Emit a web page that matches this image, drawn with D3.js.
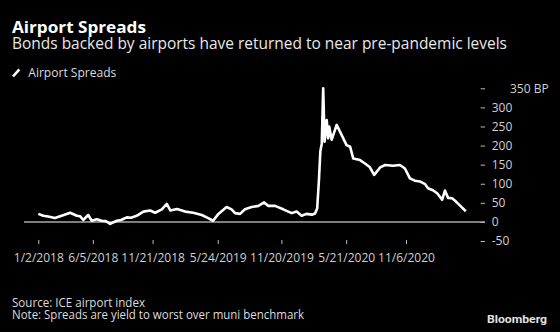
<!DOCTYPE html>
<html>
<head>
<meta charset="utf-8">
<script src="https://cdn.jsdelivr.net/npm/d3@7"></script>
<style>
  html, body { margin: 0; padding: 0; background: #000; }
  svg { display: block; }
</style>
</head>
<body>
<svg id="chart" width="560" height="332"></svg>
<script>
// ---- Data ----
const dates = [
  "2018-01-02","2018-01-16","2018-01-30","2018-02-18","2018-03-09","2018-04-02","2018-04-21","2018-04-30",
  "2018-05-09","2018-05-23","2018-06-02","2018-06-16","2018-06-30","2018-07-12","2018-07-24","2018-08-12",
  "2018-08-24","2018-09-09","2018-09-21","2018-10-07","2018-10-26","2018-11-14","2018-11-28","2018-12-17",
  "2018-12-31","2019-01-10","2019-01-29","2019-02-21","2019-03-16","2019-04-09","2019-04-27","2019-05-11",
  "2019-05-26","2019-06-18","2019-07-02","2019-07-12","2019-07-26","2019-08-09","2019-08-28","2019-09-16",
  "2019-10-02","2019-10-14","2019-11-02","2019-11-25","2019-12-19","2020-01-02","2020-01-16","2020-01-30",
  "2020-02-14","2020-02-23","2020-02-29","2020-03-05","2020-03-09","2020-03-13","2020-03-17","2020-03-21",
  "2020-03-27","2020-03-31","2020-04-03","2020-04-10","2020-04-24","2020-05-08","2020-05-22","2020-06-01",
  "2020-06-10","2020-06-29","2020-07-13","2020-07-27","2020-08-08","2020-08-25","2020-09-08","2020-09-30",
  "2020-10-20","2020-11-03","2020-11-17","2020-12-01","2020-12-15","2020-12-30","2021-01-07","2021-01-21",
  "2021-02-02","2021-02-16","2021-02-24","2021-03-05","2021-03-16","2021-03-24","2021-04-02","2021-04-13",
  "2021-04-24"
];
const spreads = [
  21,16,14,10,16,24,16,15,
  5,18,3,7,3,2,-5,3,
  5,12,11,16,27,30,24,33,
  47,30,34,27,24,18,10,3,
  21,39,33,23,21,33,39,42,
  51,42,42,33,23,27,16,21,
  19,22,35,110,185,205,350,210,
  267,219,250,215,254,228,201,197,
  166,162,153,143,123,143,149,147,
  149,140,114,108,106,99,88,83,
  75,58,82,63,62,56,48,38,
  28
];
const xTickDates  = ["2018-01-02","2018-06-05","2018-11-21","2019-05-24","2019-11-20","2020-05-21","2020-11-06"];
const xTickLabels = ["1/2/2018","6/5/2018","11/21/2018","5/24/2019","11/20/2019","5/21/2020","11/6/2020"];
const yTicks = [-50, 0, 50, 100, 150, 200, 250, 300, 350];
const yUnit = "BP";

const title = "Airport Spreads";
const subtitle = "Bonds backed by airports have returned to near pre-pandemic levels";
const legendLabel = "Airport Spreads";
const source = "Source: ICE airport index";
const note = "Note: Spreads are yield to worst over muni benchmark";

// ---- Drawing ----
const parse = d3.utcParse("%Y-%m-%d");
const data = dates.map((d, i) => ({ date: parse(d), value: spreads[i] }));

const svg = d3.select("#chart");
const FONT = "'Open Sans', 'DejaVu Sans', sans-serif";

svg.append("rect").attr("width", 560).attr("height", 332).attr("fill", "#000");

const x = d3.scaleUtc()
  .domain([parse(xTickDates[0]), parse(xTickDates[xTickDates.length - 1])])
  .range([38.3, 406]);
const y = d3.scaleLinear().domain([-50, 350]).range([241, 88.3]);

function fitText(sel, w) {
  sel.attr("textLength", w).attr("lengthAdjust", "spacingAndGlyphs");
}

// Title block (one text element, two lines)
const head = svg.append("text").attr("font-family", FONT).attr("font-size", 16.5);
head.append("tspan").attr("x", 12).attr("y", 33.3)
  .attr("font-weight", 700).attr("fill", "#fff").text(title).call(fitText, 134);
head.append("tspan").attr("x", 12).attr("y", 48.5)
  .attr("fill", "#e8e8e8").text(subtitle).call(fitText, 495);

// Legend
svg.append("line").attr("x1", 13).attr("y1", 76.5).attr("x2", 19.3).attr("y2", 69.3)
  .attr("stroke", "#fff").attr("stroke-width", 2.6);
svg.append("text").attr("x", 28.3).attr("y", 76.7)
  .attr("font-family", FONT).attr("font-size", 12)
  .attr("fill", "#ddd").text(legendLabel).call(fitText, 88);

// Zero line
svg.append("line").attr("x1", 24).attr("x2", 485).attr("y1", y(0)).attr("y2", y(0))
  .attr("stroke", "#a8a8a8").attr("stroke-width", 1.5);

// Y axis (right)
const yAxis = svg.append("g").attr("transform", "translate(480.7,0)")
  .call(d3.axisRight(y).tickValues(yTicks).tickSize(4.3).tickPadding(6.7)
    .tickFormat(d => d === 350 ? d + " " + yUnit : d));
yAxis.select(".domain").remove();
yAxis.selectAll(".tick line").attr("stroke", "#bbb").attr("stroke-width", 1);
yAxis.selectAll(".tick text").attr("fill", "#d0d0d0").attr("font-family", FONT).attr("font-size", 12);
yAxis.selectAll(".tick").filter(d => d === 350).select("text").attr("x", 29.3);

// X axis
const xAxis = svg.append("g").attr("transform", "translate(0,240)")
  .call(d3.axisBottom(x).tickValues(xTickDates.map(parse)).tickSize(4).tickPadding(9)
    .tickFormat((d, i) => xTickLabels[i]));
xAxis.select(".domain").remove();
xAxis.selectAll(".tick line").attr("stroke", "#bbb").attr("stroke-width", 1);
xAxis.selectAll(".tick text").attr("fill", "#d0d0d0").attr("font-family", FONT).attr("font-size", 12);

// Series line
const line = d3.line().x(d => x(d.date)).y(d => y(d.value));
svg.append("path").datum(data).attr("d", line)
  .attr("fill", "none").attr("stroke", "#fff").attr("stroke-width", 2.6)
  .attr("stroke-linejoin", "round");

// Footer (one text element, two lines)
const foot = svg.append("text").attr("font-family", FONT).attr("font-size", 12).attr("fill", "#ddd");
foot.append("tspan").attr("x", 12).attr("y", 306.7).text(source).call(fitText, 133);
foot.append("tspan").attr("x", 12).attr("y", 318.5).text(note).call(fitText, 292);
svg.append("text").attr("x", 547).attr("y", 322.7).attr("text-anchor", "end")
  .attr("font-family", "Roboto, 'Liberation Sans', sans-serif").attr("font-weight", 700).attr("font-size", 11.5)
  .attr("fill", "#e0e0e0").text("Bloomberg").call(fitText, 60);
</script>
</body>
</html>
